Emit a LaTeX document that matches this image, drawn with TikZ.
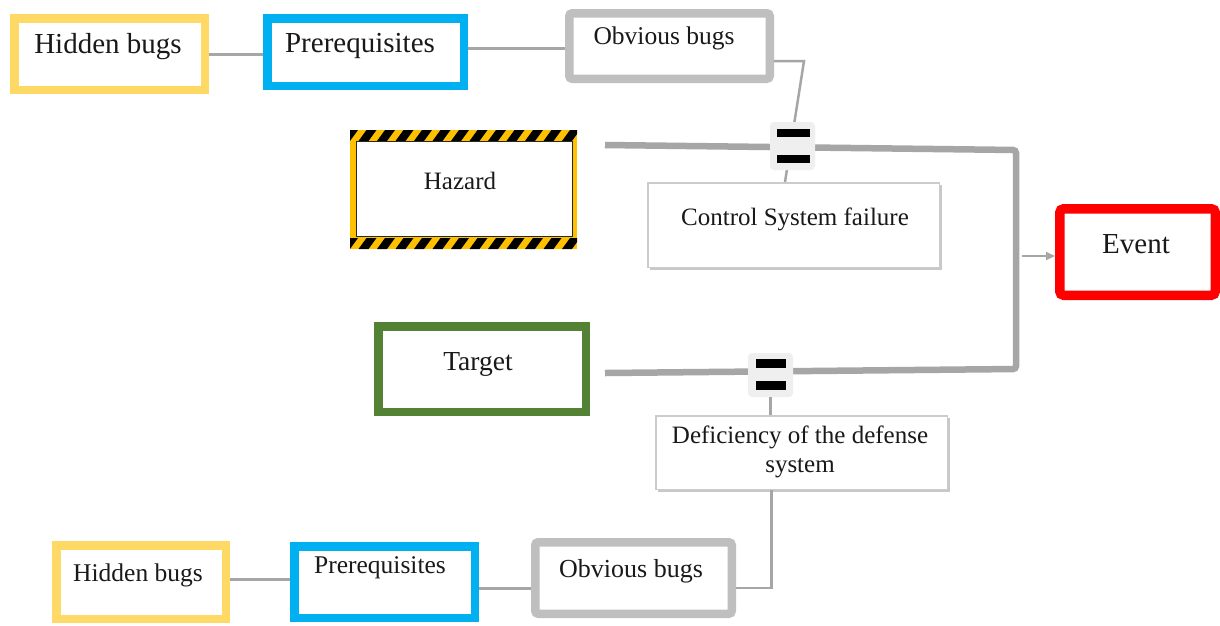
\documentclass[tikz,border=0pt]{standalone}
\usepackage{fontspec}
\setmainfont{Liberation Serif}
\usetikzlibrary{arrows.meta,shadows}
\definecolor{cyel}{HTML}{FFD966}
\definecolor{cblue}{HTML}{00B0F0}
\definecolor{cgray}{HTML}{BFBFBF}
\definecolor{cgreen}{HTML}{548235}
\definecolor{cred}{HTML}{FF0000}
\definecolor{clin}{HTML}{A6A6A6}
\definecolor{chaz}{HTML}{FFC000}
\definecolor{ceq}{HTML}{EFEFEF}
\begin{document}
\begin{tikzpicture}[x=1pt,y=-1pt,
  box/.style={draw, rectangle, fill=white, inner sep=0pt},
  ybox/.style={box, draw=cyel, line width=8.5pt},
  bbox/.style={box, draw=cblue, line width=8.5pt},
  gbox/.style={box, draw=cgray, line width=8.5pt, rounded corners=3pt,
    drop shadow={shadow xshift=1.5pt, shadow yshift=-1.5pt, fill=black!25, opacity=0.6}},
  tbox/.style={box, draw=cgreen, line width=8.5pt},
  ebox/.style={box, draw=cred, line width=9.5pt, rounded corners=4pt},
  sbox/.style={box, draw=cgray!80, line width=1.5pt,
    drop shadow={shadow xshift=2.5pt, shadow yshift=-2.5pt, fill=black!30, opacity=0.7}},
  eqbox/.style={rectangle, fill=ceq, rounded corners=4pt, inner sep=0pt},
  conn/.style={draw=clin, line width=3pt},
  thinconn/.style={draw=clin, line width=2.5pt},
  main/.style={draw=clin, line width=6.5pt, rounded corners=3pt},
  lbl/.style={inner sep=0pt, text=black!90, font=\fontsize{#1}{29}\selectfont},
]
\useasboundingbox (0,0) rectangle (1220,625);
\fill[white] (0,0) rectangle (1220,625);

% ---- top row
\node[ybox, minimum width=190.5pt, minimum height=71.5pt] (hb1) at (109.5,54) {};
\node[bbox, minimum width=196.5pt, minimum height=67.5pt] (pr1) at (365.5,52) {};
\node[gbox, minimum width=200.5pt, minimum height=65.5pt] (ob1) at (669.5,46) {};
\node[lbl=29] (hb1t) at (108,47) {Hidden bugs};
\node[lbl=29] (pr1t) at (360,46) {Prerequisites};
\node[lbl=25.5] (ob1t) at (664,38) {Obvious bugs};

\draw[conn] (hb1.east) -- (hb1.east -| pr1.west);
\draw[conn] ([yshift=4pt]pr1.east) -- ([yshift=4pt]pr1.east -| ob1.west);

% ---- hazard
\node[rectangle, fill=chaz, inner sep=0pt, minimum width=227pt, minimum height=119pt] (haz) at (463.5,189.5) {};
\begin{scope}
  \clip (350,130) rectangle (577,141);
  \foreach \i in {0,...,13} {
    \fill[black] ({340+\i*18.5},141) -- ({350+\i*18.5},141) -- ({358+\i*18.5},130) -- ({348+\i*18.5},130) -- cycle;
  }
\end{scope}
\begin{scope}
  \clip (350,238) rectangle (577,249);
  \foreach \i in {0,...,13} {
    \fill[black] ({340+\i*18.5},249) -- ({350+\i*18.5},249) -- ({358+\i*18.5},238) -- ({348+\i*18.5},238) -- cycle;
  }
\end{scope}
\node[box, draw=black!85, line width=1.5pt, minimum width=216pt, minimum height=95pt] (hazin) at (464.5,189) {};
\node[lbl=25] (hazt) at (460,181) {Hazard};

% ---- control system failure, target, event
\node[sbox, minimum width=291.5pt, minimum height=84.5pt] (csf) at (793.5,225) {};
\node[lbl=25] (csft) at (795,219) {Control System failure};

\node[tbox, minimum width=207.5pt, minimum height=85.5pt] (tar) at (482,369) {};
\node[lbl=27.5] (tart) at (478,364) {Target};

\node[ebox, minimum width=155.5pt, minimum height=86.5pt] (ev) at (1137.5,252) {};
\node[lbl=29] (evt) at (1136,244) {Event};

% ---- main lines
\coordinate (h1) at (605,145);
\coordinate (t1) at (605,373);
\coordinate (jt) at (1016,150);
\coordinate (jb) at (1016,369);
\draw[main] (h1) -- (jt) -- (jb) -- (t1);

\coordinate (ar) at (1022,256);
\draw[draw=clin, line width=2pt, -{Triangle[length=9pt,width=8pt]}] (ar) -- (ar -| ev.west);

% connector from obvious bugs to control system failure
\draw[thinconn] ([yshift=-15pt]ob1.east) -- ++(30,0) -- ([xshift=-8.5pt]csf.north);

% ---- equals symbol 1
\node[eqbox, minimum width=45pt, minimum height=48pt] (eq1) at (792.5,146) {};
\fill[black] (777,129) rectangle (810,137);
\fill[black] (777,155) rectangle (810,163);

% ---- defense deficiency
\node[sbox, minimum width=291.5pt, minimum height=73.5pt] (dds) at (801.5,452.5) {};
\node[lbl=25, align=center] (ddst) at (800,452) {Deficiency of the defense\\system};

\node[eqbox, minimum width=45pt, minimum height=44pt] (eq2) at (770.5,375) {};
\fill[black] (756,359) rectangle (786,368);
\fill[black] (756,381) rectangle (786,390);
\draw[thinconn] (eq2.south) -- (eq2.south |- dds.north);

% ---- bottom row
\node[ybox, minimum width=169.5pt, minimum height=73.5pt] (hb2) at (141,582) {};
\node[bbox, minimum width=180.5pt, minimum height=71.5pt] (pr2) at (384.5,582) {};
\node[gbox, minimum width=196.5pt, minimum height=71.5pt] (ob2) at (633.5,578) {};
\node[lbl=25.5] (hb2t) at (138,575) {Hidden bugs};
\node[lbl=25.5] (pr2t) at (380,568) {Prerequisites};
\node[lbl=26] (ob2t) at (631,571) {Obvious bugs};

\draw[conn] ([yshift=3pt]hb2.east) -- ([yshift=3pt]hb2.east -| pr2.west);
\draw[conn] ([yshift=-6pt]pr2.east) -- ([yshift=-6pt]pr2.east -| ob2.west);
\draw[thinconn] ([xshift=-30pt]dds.south) |- ([yshift=-10pt]ob2.east);

\end{tikzpicture}
\end{document}
